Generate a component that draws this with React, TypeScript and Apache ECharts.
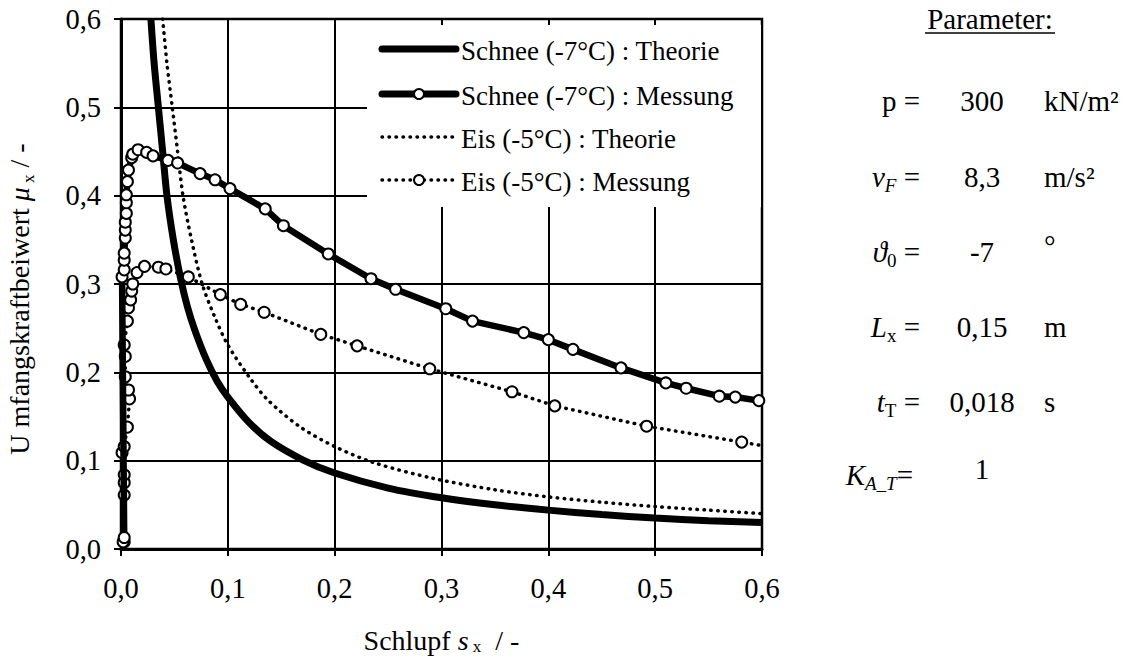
import React, { useEffect, useRef } from "react";
import * as echarts from "echarts";

const FONT = "Liberation Serif";

const xTicks = [0, 0.1, 0.2, 0.3, 0.4, 0.5, 0.6];

const schneeTheorie: [number, number][] = [
  [0.028, 0.6], [0.031, 0.55], [0.035, 0.5], [0.039, 0.45], [0.043, 0.4], [0.049, 0.35],
  [0.056, 0.305], [0.062, 0.275], [0.069, 0.248], [0.08, 0.214], [0.09, 0.19], [0.1, 0.172],
  [0.12, 0.143], [0.14, 0.122], [0.17, 0.101], [0.2, 0.086], [0.25, 0.069], [0.3, 0.058],
  [0.35, 0.05], [0.4, 0.044], [0.45, 0.039], [0.5, 0.035], [0.55, 0.032], [0.6, 0.03],
];

const schneeMessung: [number, number][] = [
  [0.002, 0.008], [0.003, 0.013], [0.001, 0.308], [0.003, 0.316], [0.003, 0.327], [0.003, 0.335],
  [0.004, 0.352], [0.004, 0.361], [0.004, 0.37], [0.005, 0.38], [0.005, 0.392], [0.005, 0.401],
  [0.006, 0.416], [0.007, 0.429], [0.01, 0.443], [0.011, 0.447], [0.016, 0.452], [0.024, 0.449],
  [0.03, 0.445], [0.044, 0.44], [0.053, 0.437], [0.074, 0.425], [0.088, 0.418], [0.102, 0.408],
  [0.135, 0.385], [0.152, 0.366], [0.194, 0.334], [0.234, 0.306], [0.257, 0.294], [0.304, 0.272],
  [0.329, 0.258], [0.377, 0.245], [0.4, 0.237], [0.423, 0.226], [0.468, 0.205], [0.51, 0.188],
  [0.529, 0.182], [0.56, 0.173], [0.575, 0.172], [0.597, 0.168],
];

const eisTheorie: [number, number][] = [
  [0.039, 0.6], [0.043, 0.55], [0.048, 0.5], [0.053, 0.45], [0.058, 0.4], [0.066, 0.35],
  [0.076, 0.3], [0.088, 0.262], [0.1, 0.231], [0.121, 0.193], [0.138, 0.168], [0.168, 0.138],
  [0.2, 0.116], [0.236, 0.098], [0.292, 0.08], [0.35, 0.067], [0.4, 0.059], [0.45, 0.053],
  [0.5, 0.048], [0.55, 0.044], [0.6, 0.04],
];

const eisMessung: [number, number][] = [
  [0.003, 0.008], [0.003, 0.061], [0.003, 0.075], [0.003, 0.084], [0.001, 0.109], [0.003, 0.116],
  [0.006, 0.138], [0.008, 0.17], [0.007, 0.18], [0.004, 0.195], [0.004, 0.218], [0.003, 0.231],
  [0.006, 0.258], [0.007, 0.273], [0.009, 0.282], [0.01, 0.292], [0.011, 0.3], [0.015, 0.313],
  [0.022, 0.32], [0.035, 0.319], [0.042, 0.317], [0.063, 0.308], [0.093, 0.288], [0.112, 0.277],
  [0.134, 0.268], [0.187, 0.243], [0.221, 0.23], [0.289, 0.204], [0.366, 0.178], [0.406, 0.162],
  [0.492, 0.139], [0.581, 0.121],
];
const eisMessungEnd: [number, number] = [0.6, 0.117];

const seriesNames = [
  "Schnee (-7°C) : Theorie",
  "Schnee (-7°C) : Messung",
  "Eis (-5°C) : Theorie",
  "Eis (-5°C) : Messung",
];

const paramLabels = ["p", "vF", "theta0", "Lx", "tT", "KAT"];
const paramValues = ["300", "8,3", "-7", "0,15", "0,018", "1"];
const paramUnits = ["kN/m²", "m/s²", "°", "m", "s", ""];

const fmt = (v: number) => v.toFixed(1).replace(".", ",");

export default function App() {
  const ref = useRef<HTMLDivElement>(null);
  useEffect(() => {
    if (!ref.current) return;
    const chart = echarts.init(ref.current, undefined, { renderer: "svg" });

    const FS = 27;
    const NF = 28;
    const TF = 28.5;
    const PF = 29;
    const richBase = {
      n: { fontFamily: FONT, fontSize: NF, color: "#000", lineHeight: 36 },
      i: { fontFamily: FONT, fontSize: NF, fontStyle: "italic", color: "#000", lineHeight: 36 },
      s: { fontFamily: FONT, fontSize: 17, color: "#000", lineHeight: 18, verticalAlign: "bottom" },
    };
    const richX = {
      n: { fontFamily: FONT, fontSize: NF, color: "#000", lineHeight: 30 },
      i: { fontFamily: FONT, fontSize: NF, fontStyle: "italic", color: "#000", lineHeight: 30 },
      s: { fontFamily: FONT, fontSize: 17, color: "#000", lineHeight: 14, verticalAlign: "bottom" },
    };
    const richP = {
      n: { fontFamily: FONT, fontSize: PF, color: "#000", lineHeight: 36 },
      i: { fontFamily: FONT, fontSize: PF, fontStyle: "italic", color: "#000", lineHeight: 36 },
      s: { fontFamily: FONT, fontSize: 19, color: "#000", lineHeight: 18, verticalAlign: "bottom" },
      si: { fontFamily: FONT, fontSize: 19, fontStyle: "italic", color: "#000", lineHeight: 18, verticalAlign: "bottom" },
    };
    const richTick = { a: { fontFamily: FONT, fontSize: TF, color: "#000" } };
    const richLeg = { a: { fontFamily: FONT, fontSize: FS, color: "#000" } };

    const labelText: Record<string, string> = {
      p: "{n|p =}",
      vF: "{i|v}{si|F}{n| =}",
      theta0: "{i|ϑ}{s|0}{n| =}",
      Lx: "{i|L}{s|x}{n| =}",
      tT: "{i|t}{s|T}{n| =}",
      KAT: "{i|K}{si|A_T}{n|=}",
    };
    const rowY = [101, 177, 252, 327, 402, 475];
    const labelRight = [920, 920, 920, 920, 920, 913];
    const valueDy = [0, 0, 0, 0, 0, -6];

    const Z = 100;
    const graphics: any[] = [
      {
        type: "text",
        x: 990,
        y: 19,
        z: Z,
        style: { text: "{n|Parameter:}", rich: richP, align: "center", verticalAlign: "middle" },
      },
      { type: "line", z: Z, shape: { x1: 925, y1: 33, x2: 1055, y2: 33 }, style: { stroke: "#000", lineWidth: 1.5 } },
    ];
    paramLabels.forEach((k, idx) => {
      graphics.push({
        type: "text",
        x: labelRight[idx],
        y: rowY[idx],
        z: Z,
        style: { text: labelText[k], rich: richP, align: "right", verticalAlign: "middle" },
      });
      graphics.push({
        type: "text",
        x: 982,
        y: rowY[idx] + valueDy[idx],
        z: Z,
        style: { text: `{n|${paramValues[idx]}}`, rich: richP, align: "center", verticalAlign: "middle" },
      });
      if (paramUnits[idx]) {
        graphics.push({
          type: "text",
          x: 1044,
          y: paramUnits[idx] === "°" ? rowY[idx] - 6 : rowY[idx],
          z: Z,
          style: { text: `{n|${paramUnits[idx]}}`, rich: richP, align: "left", verticalAlign: "middle" },
        });
      }
    });

    // legend box (drawn as graphic so that icons match the series styles)
    const lgRows = [49, 94, 137, 180];
    const lgX1 = 382;
    const lgX2 = 456;
    graphics.push({
      type: "rect",
      z: Z - 1,
      shape: { x: 367, y: 25, width: 394, height: 182 },
      style: { fill: "#fff", stroke: null },
    });
    seriesNames.forEach((nm, idx) => {
      const y = lgRows[idx];
      const thick = idx < 2;
      graphics.push({
        type: "line",
        z: Z,
        shape: { x1: lgX1, y1: y, x2: lgX2, y2: y },
        style: thick
          ? { stroke: "#000", lineWidth: 7, lineCap: "round" }
          : { stroke: "#000", lineWidth: 3.5, lineDash: [0.5, 6.5], lineCap: "round" },
      });
      if (idx === 1 || idx === 3) {
        graphics.push({
          type: "circle",
          z: Z + 1,
          shape: { cx: (lgX1 + lgX2) / 2, cy: y, r: 5 },
          style: { fill: "#fff", stroke: "#000", lineWidth: 2 },
        });
      }
      graphics.push({
        type: "text",
        x: 461,
        y: y + 2,
        z: Z,
        style: { text: `{a|${nm}}`, rich: richLeg, align: "left", verticalAlign: "middle" },
      });
    });

    const dotted = { color: "#000", width: 3.5, type: [0.5, 6.5], cap: "round" };
    const circle = { color: "#fff", borderColor: "#000", borderWidth: 2 };

    chart.setOption({
      animation: false,
      backgroundColor: "#fff",
      grid: {
        left: 121,
        right: 362,
        top: 19,
        bottom: 108,
        show: true,
        borderColor: "#000",
        borderWidth: 2.5,
        backgroundColor: "transparent",
        containLabel: false,
        outerBoundsMode: "none",
      },
      xAxis: {
        type: "value",
        min: xTicks[0],
        max: xTicks[xTicks.length - 1],
        interval: 0.1,
        axisLine: { show: true, onZero: false, lineStyle: { color: "#000", width: 3 } },
        axisTick: { show: true, inside: false, length: 7, lineStyle: { color: "#000", width: 2 } },
        splitLine: { show: true, lineStyle: { color: "#000", width: 2 } },
        axisLabel: { formatter: (v: number) => `{a|${fmt(v)}}`, rich: richTick, margin: 25 },
        name: "{n|Schlupf }{i|s}{s| x}{n|  / -}",
        nameLocation: "middle",
        nameGap: 76,
        nameTextStyle: { rich: richX },
      },
      yAxis: {
        type: "value",
        min: 0,
        max: 0.6,
        interval: 0.1,
        axisLine: { show: true, onZero: false, lineStyle: { color: "#000", width: 3 } },
        axisTick: { show: true, inside: false, length: 7, lineStyle: { color: "#000", width: 2 } },
        splitLine: { show: true, lineStyle: { color: "#000", width: 2 } },
        axisLabel: { formatter: (v: number) => `{a|${fmt(v)}}`, rich: richTick, margin: 20 },
        name: "{n|U mfangskraftbeiwert }{i|μ}{s| x}{n| / -}",
        nameLocation: "middle",
        nameGap: 84,
        nameTextStyle: { rich: richBase, padding: [0, 30, 0, 0] },
      },
      series: [
        {
          name: seriesNames[0],
          type: "line",
          data: schneeTheorie,
          symbol: "none",
          smooth: 0.3,
          lineStyle: { color: "#000", width: 7 },
          itemStyle: { color: "#000" },
          z: 2,
        },
        {
          name: seriesNames[1],
          type: "line",
          data: schneeMessung,
          symbol: "circle",
          symbolSize: 11,
          lineStyle: { color: "#000", width: 6.5 },
          itemStyle: circle,
          z: 4,
        },
        {
          name: seriesNames[2],
          type: "line",
          data: eisTheorie,
          symbol: "none",
          smooth: 0.3,
          lineStyle: dotted,
          itemStyle: { color: "#000" },
          z: 2,
        },
        {
          name: seriesNames[3],
          type: "line",
          data: [...eisMessung, { value: eisMessungEnd, symbol: "none" }],
          symbol: "circle",
          symbolSize: 11,
          lineStyle: dotted,
          itemStyle: circle,
          z: 3,
        },
      ],
      graphic: graphics,
    });
    return () => chart.dispose();
  }, []);
  return <div ref={ref} style={{ position: "fixed", left: 0, top: 0, width: 1124, height: 657 }} />;
}
